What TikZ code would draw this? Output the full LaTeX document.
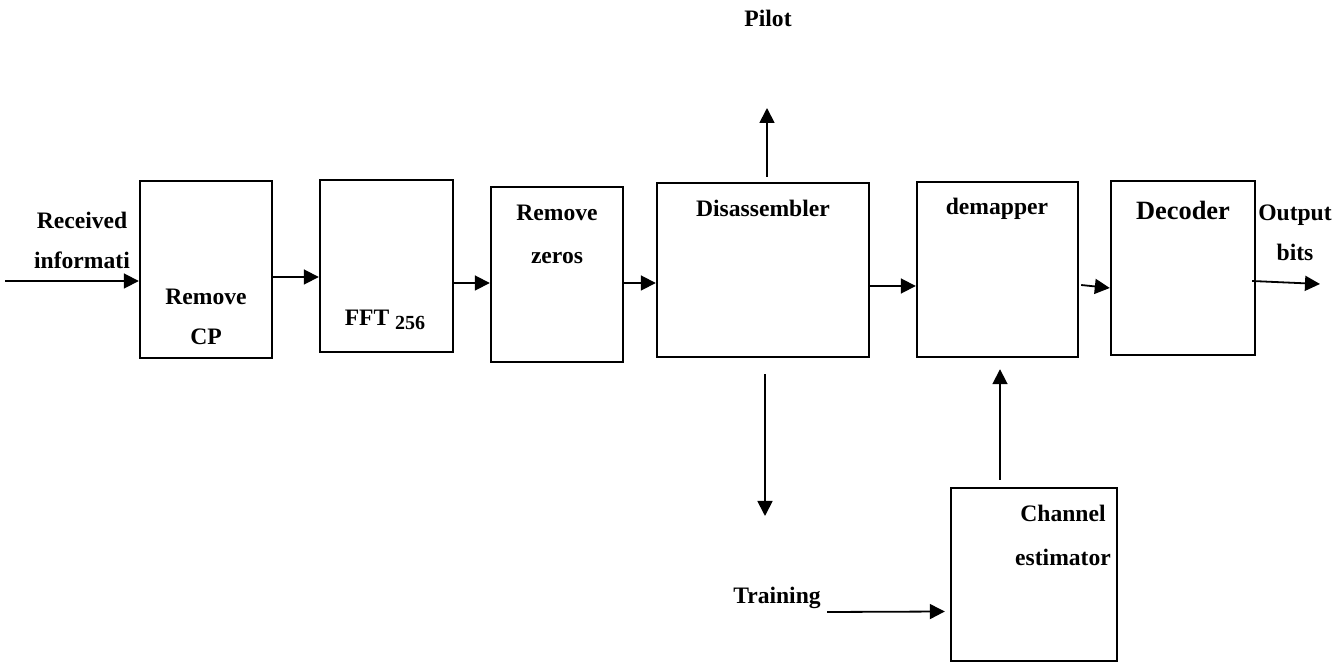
\documentclass[tikz,border=0pt]{standalone}
\usepackage{fontspec}
\setmainfont{Liberation Serif}
\usetikzlibrary{arrows.meta}
\tikzset{
  blk/.style={rectangle, draw=black, line width=1.2pt, inner sep=0pt},
  flow/.style={-{Triangle[length=7.5pt, width=7.5pt]}, line width=0.9pt, draw=black},
  lbl/.style={font=\fontsize{11.8}{20}\selectfont\bfseries, align=center, inner sep=0pt},
}

\begin{document}
\begin{tikzpicture}[x=0.5pt, y=-0.5pt,
  big/.style={lbl, font=\fontsize{13.2}{20}\selectfont\bfseries}]
  \useasboundingbox (0,0) rectangle (1335,663);
  \node[blk, minimum width=66pt, minimum height=88.5pt] (cp) at (206,269.5) {};
  \node[blk, minimum width=66.5pt, minimum height=86pt] (fft) at (386.5,266) {};
  \node[blk, minimum width=66pt, minimum height=87.5pt] (zeros) at (557,274.5) {};
  \node[blk, minimum width=106pt, minimum height=87pt] (dis) at (763,270) {};
  \node[blk, minimum width=80.5pt, minimum height=87.5pt] (demap) at (997.5,269.5) {};
  \node[blk, minimum width=72pt, minimum height=87pt] (dec) at (1183,268) {};
  \node[blk, minimum width=83pt, minimum height=86.5pt] (chan) at (1034,574.5) {};
  % labels
  \node[lbl] (recv) at (82,240) {Received\\informati};
  \node[lbl] (cptxt) at (206,317) {Remove\\CP};
  \node[lbl] (ffttxt) at (385,320) {FFT {\fontsize{10}{12}\selectfont\raisebox{-2pt}{256}}};
  \node[lbl, font=\fontsize{11.8}{21.5}\selectfont\bfseries] (zerotxt) at (557,234.5) {Remove\\zeros};
  \node[lbl] (distxt) at (763,208) {Disassembler};
  \node[lbl] (demtxt) at (997,209) {demapper};
  \node[big] (dectxt) at (1183,210) {Decoder};
  \node[lbl] (outtxt) at (1295,233) {Output\\bits};
  \node[lbl, font=\fontsize{11.8}{22}\selectfont\bfseries] (chantxt) at (1063,535) {Channel\\estimator};
  \node[lbl] (trn) at (777,598) {Training};
  \node[lbl] (pilot) at (768,18) {Pilot};
  % free ends
  \coordinate (in) at (5,281);
  \coordinate (out) at (1320,284);
  \coordinate (pl) at (767,108);
  \coordinate (tr) at (765,516);
  \coordinate (trs) at (827,612);
  % connectors
  \draw[flow] (in) -- ([yshift=-5.75pt]cp.west);
  \draw[flow] ([yshift=-3.75pt]cp.east) -- ([yshift=-5.5pt]fft.west);
  \draw[flow] ([yshift=-8.5pt]fft.east) -- ([yshift=-4.25pt]zeros.west);
  \draw[flow] ([yshift=-4.25pt]zeros.east) -- ([yshift=-6.5pt]dis.west);
  \draw[flow] ([yshift=-8pt]dis.east) -- ([yshift=-8.25pt]demap.west);
  \draw[flow] ([xshift=1pt, yshift=-7.75pt]demap.east) -- ([yshift=-10pt]dec.west);
  \draw[flow] ([xshift=-2pt, yshift=-6.5pt]dec.east) -- (out);
  \draw[flow] ([xshift=2pt, yshift=2.5pt]dis.north) -- (pl);
  \draw[flow] ([xshift=1pt, yshift=-8pt]dis.south) -- (tr);
  \draw[flow] ([xshift=-17pt, yshift=3.5pt]chan.north) -- ([xshift=1.25pt, yshift=-5.5pt]demap.south);
  \draw[flow] (trs) -- ([xshift=-2.5pt, yshift=-18.5pt]chan.west);
\end{tikzpicture}
\end{document}
